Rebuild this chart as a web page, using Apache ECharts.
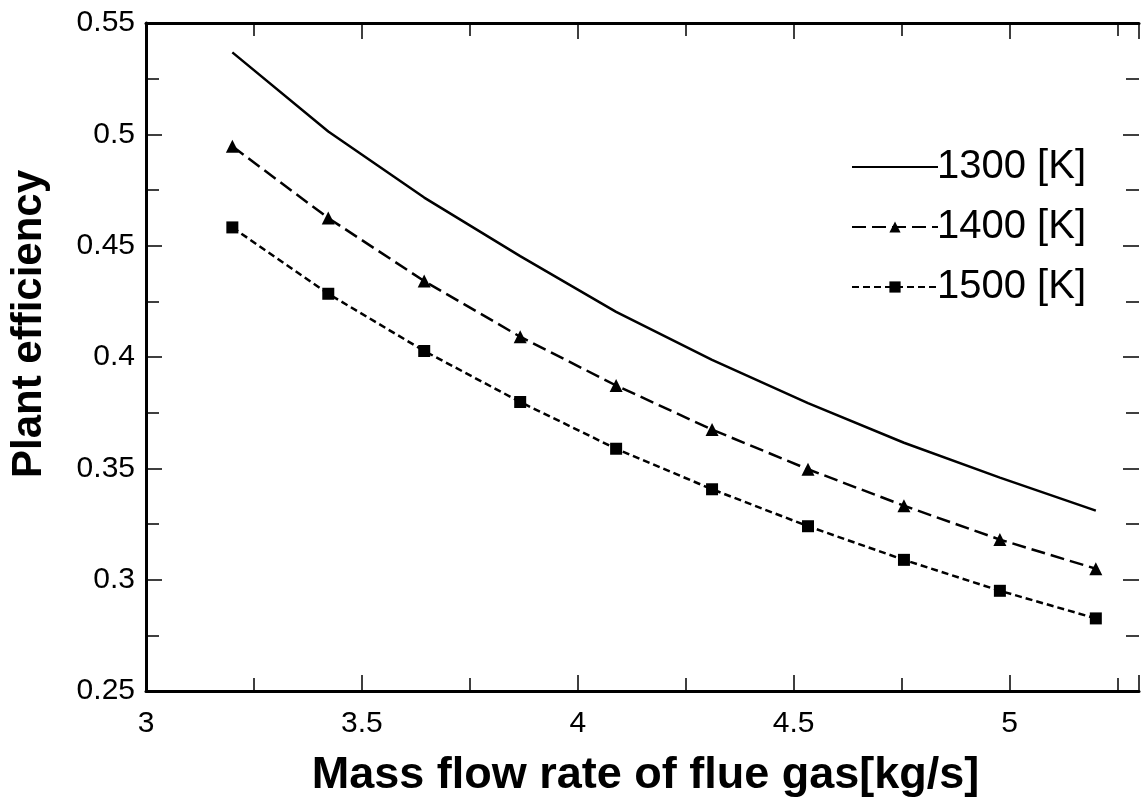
<!DOCTYPE html>
<html>
<head>
<meta charset="utf-8">
<script src="https://cdn.jsdelivr.net/npm/echarts@6/dist/echarts.min.js"></script>
<style>html,body{margin:0;padding:0;background:#fff}#c{width:1142px;height:803px}</style>
</head>
<body>
<div id="c"></div>
<script>
const xValues = [3.2, 3.4222, 3.6444, 3.8667, 4.0889, 4.3111, 4.5333, 4.7556, 4.9778, 5.2];
const eff1300 = [0.5368, 0.5013, 0.4716, 0.4453, 0.4203, 0.3987, 0.3793, 0.3615, 0.3458, 0.3310];
const eff1400 = [0.4946, 0.4624, 0.4341, 0.4091, 0.3872, 0.3674, 0.3496, 0.3332, 0.3180, 0.3049];
const eff1500 = [0.4582, 0.4284, 0.4027, 0.3798, 0.3588, 0.3406, 0.3240, 0.3089, 0.2950, 0.2826];
const seriesNames = ['1300 [K]', '1400 [K]', '1500 [K]'];
const xTitle = 'Mass flow rate of flue gas[kg/s]';
const yTitle = 'Plant efficiency';

const FONT = 'Liberation Sans, Arial, sans-serif';
const pairs = ys => xValues.map((x, i) => [x, ys[i]]);
const chart = echarts.init(document.getElementById('c'));

const baseAxis = {
  axisLine: { show: true, onZero: false, lineStyle: { color: '#000', width: 3 } },
  axisTick: { show: true, inside: true, length: 16, lineStyle: { color: '#000', width: 1.5 } },
  minorTick: { show: true, splitNumber: 2, length: 13, lineStyle: { color: '#000', width: 1.5 } },
  splitLine: { show: false },
  minorSplitLine: { show: false }
};

chart.setOption({
  backgroundColor: '#fff',
  animation: false,
  grid: { left: 143, top: 23, width: 1003, height: 670, containLabel: false },
  legend: {
    orient: 'vertical',
    left: 846,
    top: 142,
    itemWidth: 86,
    itemHeight: 14,
    itemGap: 20,
    textStyle: { fontFamily: FONT, fontSize: 40, color: '#000', padding: [0, 0, 0, -6] },
    data: [
      { name: seriesNames[0], itemStyle: { opacity: 0 } },
      { name: seriesNames[1] },
      { name: seriesNames[2] }
    ]
  },
  xAxis: [
    Object.assign({}, baseAxis, {
      type: 'value', min: 3, max: 5.3, interval: 0.5, position: 'bottom',
      axisLabel: {
        fontFamily: FONT, fontSize: 30, color: '#000', margin: 18,
        formatter: v => (v > 5.01 ? '' : String(v))
      },
      name: xTitle, nameLocation: 'middle', nameGap: 62,
      nameTextStyle: { fontFamily: FONT, fontSize: 45, fontWeight: 'bold', color: '#000', padding: [0, 0, 0, 6] }
    }),
    Object.assign({}, baseAxis, {
      type: 'value', min: 3, max: 5.3, interval: 0.5, position: 'top',
      axisLabel: { show: false }
    })
  ],
  yAxis: [
    Object.assign({}, baseAxis, {
      type: 'value', min: 0.25, max: 0.55, interval: 0.05, position: 'left',
      axisLabel: { fontFamily: FONT, fontSize: 30, color: '#000', margin: 11 },
      name: yTitle, nameLocation: 'middle', nameGap: 96, nameRotate: 90,
      nameTextStyle: { fontFamily: FONT, fontSize: 42, fontWeight: 'bold', color: '#000', padding: [0, 0, 0, 66] }
    }),
    Object.assign({}, baseAxis, {
      type: 'value', min: 0.25, max: 0.55, interval: 0.05, position: 'right',
      axisLine: { show: false },
      axisLabel: { show: false }
    })
  ],
  series: [
    {
      name: seriesNames[0], type: 'line', data: pairs(eff1300),
      showSymbol: false, symbol: 'none',
      lineStyle: { color: '#000', width: 2.5, type: 'solid' },
      itemStyle: { color: '#000' }
    },
    {
      name: seriesNames[1], type: 'line', data: pairs(eff1400),
      symbol: 'triangle', symbolSize: 13,
      lineStyle: { color: '#000', width: 2.5, type: [14, 6] },
      itemStyle: { color: '#000' }
    },
    {
      name: seriesNames[2], type: 'line', data: pairs(eff1500),
      symbol: 'rect', symbolSize: 12,
      lineStyle: { color: '#000', width: 2.5, type: [7, 4] },
      itemStyle: { color: '#000' }
    }
  ]
});
</script>
</body>
</html>
